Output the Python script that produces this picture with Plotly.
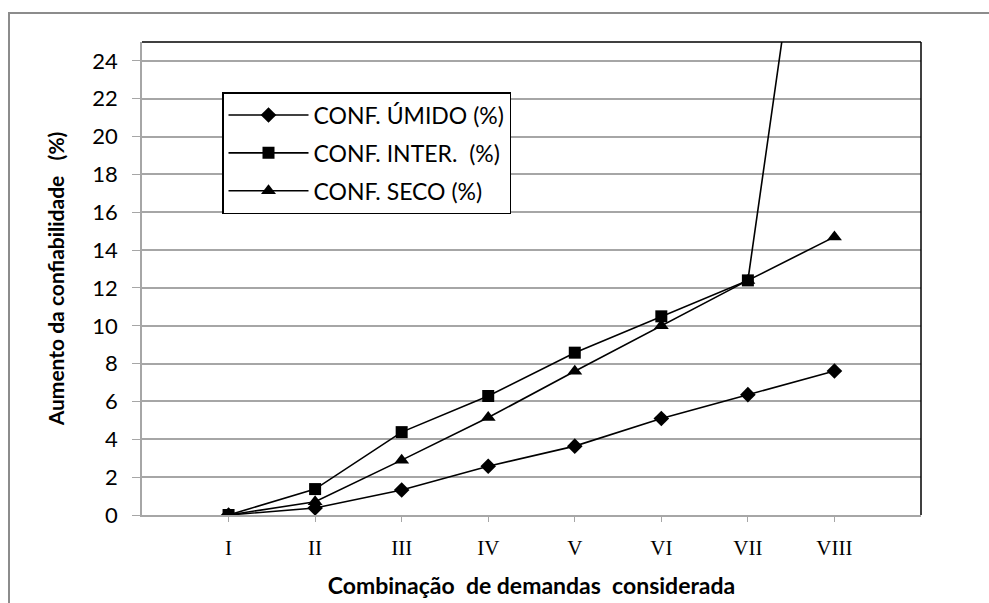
import plotly.graph_objects as go

# Demand combinations (roman numerals) and reliability increase per configuration
categorias = ["I", "II", "III", "IV", "V", "VI", "VII", "VIII"]
conf_umido = [0.0, 0.37, 1.32, 2.58, 3.64, 5.1, 6.36, 7.61]
conf_inter = [0.0, 1.37, 4.38, 6.29, 8.58, 10.5, 12.4, 44.6]
conf_seco = [0.0, 0.70, 2.9, 5.15, 7.6, 10.0, 12.4, 14.7]

x_pos = list(range(len(categorias)))

W, H = 989, 603
L, R, T, B = 142, 921, 42, 515  # plot area in pixels


def px(x):
    return (x - L) / (R - L)


def py(y):
    return (B - y) / (B - T)


fig = go.Figure()
series = [
    ("CONF. ÚMIDO (%)", conf_umido, "diamond", 12),
    ("CONF. INTER.  (%)", conf_inter, "square", 12),
    ("CONF. SECO (%)", conf_seco, "triangle-up", 13),
]
for i, (nome, vals, simb, tam) in enumerate(series):
    fig.add_trace(go.Scatter(
        x=x_pos, y=vals, name=nome, mode="lines+markers",
        legendgroup=f"g{i}",
        line=dict(color="black", width=1.6),
        marker=dict(symbol=simb, size=tam, color="black"),
    ))

grid_col = "#a6a6a6"
sp = "\u00a0"
fig.update_layout(
    width=W, height=H,
    margin=dict(l=L, r=W - R, t=T, b=H - B),
    paper_bgcolor="white", plot_bgcolor="white",
    showlegend=True,
    legend=dict(
        x=px(222), y=py(92), xanchor="left", yanchor="top",
        bgcolor="white", bordercolor="black", borderwidth=1.5,
        font=dict(family="Lato", size=23, color="black"),
        tracegroupgap=5, itemwidth=80,
    ),
    xaxis=dict(
        range=[-1, 8], tickvals=x_pos, ticktext=categorias,
        automargin=False,
        showgrid=False, zeroline=False,
        showline=True, linecolor=grid_col, linewidth=1.5,
        ticks="outside", ticklen=5, tickcolor=grid_col,
        ticklabelstandoff=8,
        tickfont=dict(family="Liberation Serif", size=21, color="black"),
        title=dict(text=f"<b>Combinação{sp}{sp}de demandas{sp}{sp}considerada</b>",
                   font=dict(family="Lato", size=23, color="black"), standoff=19),
    ),
    yaxis=dict(
        range=[0, 25], tickvals=list(range(0, 25, 2)),
        automargin=False,
        showgrid=True, gridcolor=grid_col, gridwidth=1.5,
        zeroline=False,
        showline=True, linecolor=grid_col, linewidth=1.5,
        ticks="outside", ticklen=8, tickcolor=grid_col,
        ticklabelstandoff=10,
        tickfont=dict(family="Lato", size=22, color="black"),
        title=dict(text=f"<b>Aumento da confiabilidade{sp}{sp}{sp}(%)</b>",
                   font=dict(family="Lato", size=21, color="black"), standoff=22),
    ),
    shapes=[
        # chart area frame
        dict(type="rect", xref="paper", yref="paper",
             x0=px(9), x1=px(1100), y0=py(700), y1=py(13),
             line=dict(color="#8c8c8c", width=2), layer="below"),
        # top and right edges of the plot area
        dict(type="line", xref="paper", yref="paper", x0=0, x1=1, y0=1, y1=1,
             line=dict(color="black", width=1.5)),
        dict(type="line", xref="paper", yref="paper", x0=1, x1=1, y0=0, y1=1,
             line=dict(color="black", width=1.5)),
    ],
)

fig.write_html("out.html")
